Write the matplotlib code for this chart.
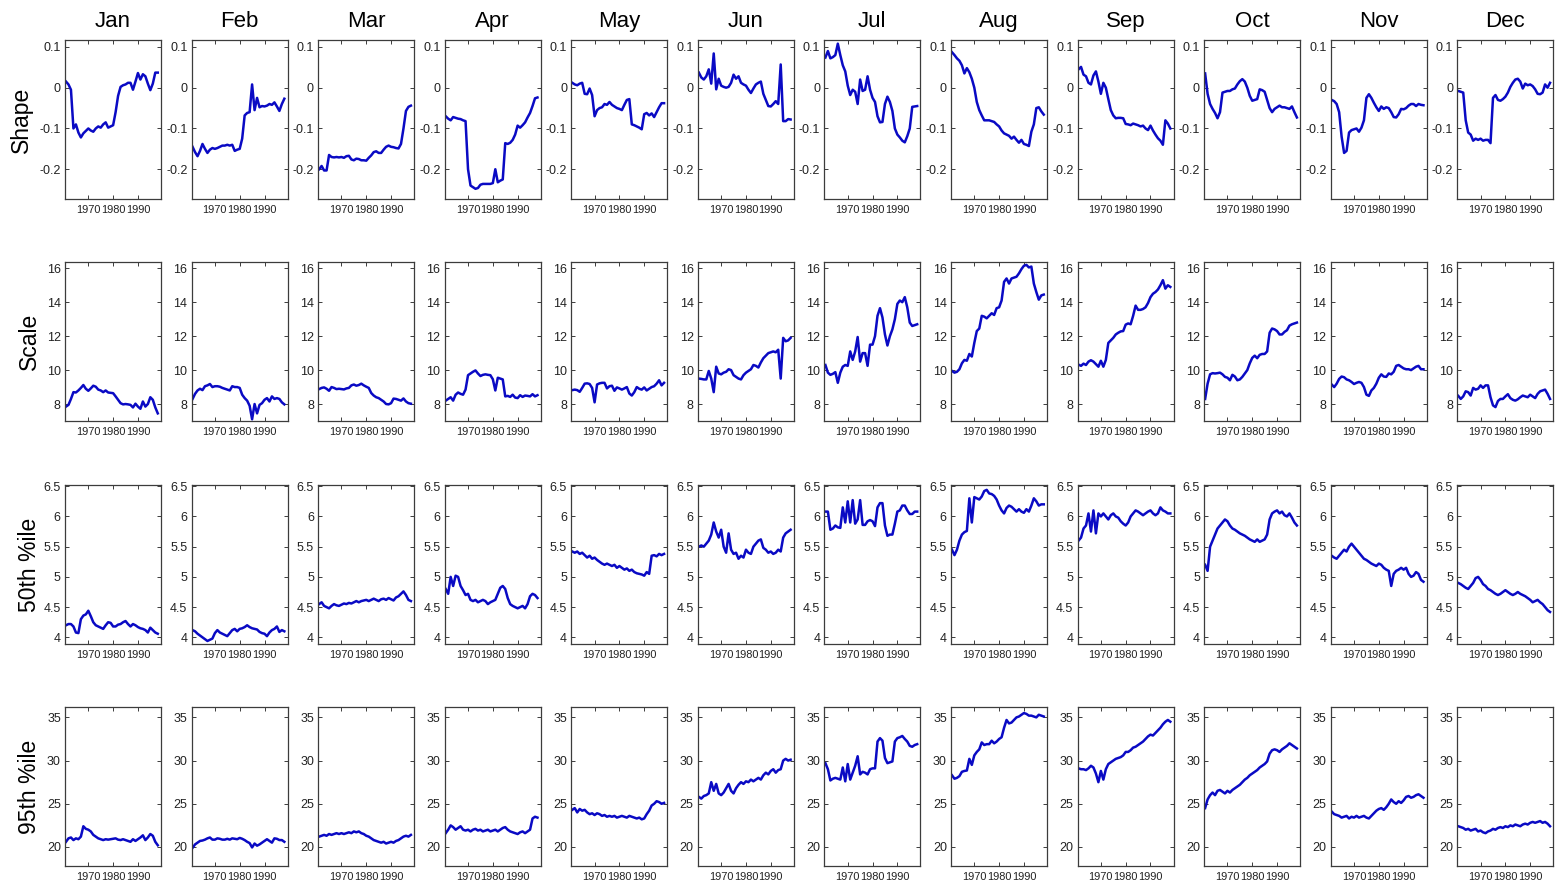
import matplotlib
matplotlib.use("Agg")
import matplotlib.pyplot as plt

plt.rcParams['font.family'] = ['Liberation Sans', 'DejaVu Sans']
plt.rcParams['axes.unicode_minus'] = False

years = list(range(1961, 1999))
months = ['Jan', 'Feb', 'Mar', 'Apr', 'May', 'Jun',
          'Jul', 'Aug', 'Sep', 'Oct', 'Nov', 'Dec']
row_names = ['Shape', 'Scale', '50th %ile', '95th %ile']
x_ticks = [1970, 1980, 1990]

# ---- GEV shape parameter ----
shape_jan = [0.015, 0.008, -0.005, -0.100, -0.090, -0.110, -0.122, -0.112, -0.106, -0.100,
             -0.105, -0.108, -0.100, -0.095, -0.098, -0.090, -0.085, -0.098, -0.095, -0.092,
             -0.060, -0.020, 0.002, 0.006, 0.008, 0.012, 0.012, -0.005, 0.015, 0.036,
             0.020, 0.033, 0.028, 0.010, -0.006, 0.010, 0.037, 0.037]
shape_feb = [-0.145, -0.158, -0.168, -0.155, -0.138, -0.150, -0.160, -0.152, -0.148, -0.150,
             -0.148, -0.145, -0.142, -0.142, -0.140, -0.142, -0.140, -0.155, -0.152, -0.150,
             -0.125, -0.068, -0.062, -0.060, 0.008, -0.055, -0.025, -0.048, -0.045, -0.046,
             -0.044, -0.040, -0.042, -0.036, -0.046, -0.057, -0.040, -0.027]
shape_mar = [-0.200, -0.192, -0.203, -0.203, -0.165, -0.170, -0.171, -0.170, -0.171, -0.170,
             -0.172, -0.168, -0.167, -0.176, -0.178, -0.174, -0.175, -0.178, -0.178, -0.179,
             -0.172, -0.166, -0.158, -0.156, -0.160, -0.160, -0.152, -0.145, -0.142, -0.145,
             -0.146, -0.148, -0.149, -0.138, -0.100, -0.057, -0.047, -0.044]
shape_apr = [-0.070, -0.076, -0.080, -0.072, -0.074, -0.076, -0.077, -0.080, -0.082, -0.200,
             -0.240, -0.244, -0.248, -0.246, -0.238, -0.236, -0.236, -0.236, -0.236, -0.234,
             -0.200, -0.232, -0.228, -0.225, -0.136, -0.138, -0.135, -0.128, -0.115, -0.093,
             -0.098, -0.092, -0.085, -0.073, -0.062, -0.045, -0.026, -0.024]
shape_may = [0.012, 0.008, 0.006, 0.010, 0.012, -0.015, -0.016, -0.002, -0.018, -0.070,
             -0.055, -0.050, -0.048, -0.040, -0.042, -0.035, -0.042, -0.046, -0.050, -0.052,
             -0.055, -0.042, -0.030, -0.028, -0.090, -0.092, -0.095, -0.098, -0.102, -0.065,
             -0.062, -0.068, -0.063, -0.072, -0.060, -0.048, -0.038, -0.038]
shape_jun = [0.037, 0.025, 0.020, 0.028, 0.045, 0.010, 0.084, -0.004, 0.022, 0.005,
             0.002, 0.000, 0.002, 0.012, 0.032, 0.022, 0.028, 0.012, 0.008, 0.005,
             -0.005, -0.013, -0.002, 0.008, 0.012, 0.015, -0.015, -0.030, -0.045, -0.046,
             -0.040, -0.033, -0.040, 0.057, -0.082, -0.082, -0.077, -0.078]
shape_jul = [0.074, 0.090, 0.072, 0.075, 0.080, 0.108, 0.080, 0.055, 0.040, 0.005,
             -0.018, -0.005, -0.010, -0.040, 0.020, -0.008, -0.005, 0.028, -0.005, -0.025,
             -0.035, -0.070, -0.085, -0.084, -0.040, -0.022, -0.035, -0.057, -0.100, -0.115,
             -0.122, -0.130, -0.134, -0.119, -0.100, -0.047, -0.046, -0.045]
shape_aug = [0.087, 0.080, 0.072, 0.066, 0.055, 0.035, 0.048, 0.038, 0.022, 0.000,
             -0.035, -0.055, -0.068, -0.080, -0.080, -0.080, -0.082, -0.084, -0.090, -0.095,
             -0.105, -0.112, -0.115, -0.118, -0.125, -0.120, -0.128, -0.135, -0.128, -0.138,
             -0.140, -0.143, -0.108, -0.090, -0.050, -0.048, -0.058, -0.066]
shape_sep = [0.045, 0.051, 0.032, 0.028, 0.012, 0.008, 0.030, 0.040, 0.015, -0.015,
             0.012, 0.000, -0.028, -0.055, -0.068, -0.075, -0.074, -0.074, -0.075, -0.089,
             -0.090, -0.092, -0.088, -0.090, -0.092, -0.095, -0.093, -0.100, -0.104, -0.093,
             -0.105, -0.115, -0.124, -0.130, -0.140, -0.080, -0.088, -0.100]
shape_oct = [0.035, -0.015, -0.040, -0.052, -0.062, -0.075, -0.060, -0.012, -0.010, -0.008,
             -0.008, -0.004, -0.002, 0.008, 0.016, 0.021, 0.015, 0.000, -0.020, -0.032,
             -0.030, -0.028, -0.004, -0.006, -0.010, -0.030, -0.050, -0.060, -0.052, -0.048,
             -0.044, -0.048, -0.048, -0.050, -0.052, -0.046, -0.060, -0.073]
shape_nov = [-0.030, -0.033, -0.040, -0.060, -0.120, -0.160, -0.155, -0.110, -0.104, -0.102,
             -0.100, -0.108, -0.098, -0.080, -0.025, -0.016, -0.025, -0.037, -0.048, -0.057,
             -0.046, -0.052, -0.048, -0.050, -0.060, -0.072, -0.073, -0.065, -0.052, -0.053,
             -0.050, -0.044, -0.040, -0.040, -0.045, -0.040, -0.042, -0.043]
shape_dec = [-0.008, -0.010, -0.012, -0.080, -0.110, -0.115, -0.130, -0.125, -0.128, -0.125,
             -0.130, -0.128, -0.128, -0.136, -0.025, -0.018, -0.030, -0.032, -0.028, -0.022,
             -0.012, 0.002, 0.012, 0.020, 0.022, 0.015, -0.002, 0.010, 0.006, 0.008,
             0.004, -0.004, -0.015, -0.016, -0.012, 0.008, 0.000, 0.012]

# ---- GEV scale parameter ----
scale_jan = [7.85, 7.95, 8.30, 8.70, 8.68, 8.80, 8.95, 9.12, 8.90, 8.78,
             8.92, 9.08, 9.02, 8.85, 8.80, 8.70, 8.80, 8.68, 8.66, 8.64,
             8.45, 8.25, 8.05, 7.98, 8.00, 7.98, 7.95, 7.80, 8.02, 7.85,
             7.72, 8.15, 7.85, 8.00, 8.40, 8.25, 7.80, 7.45]
scale_feb = [8.30, 8.60, 8.80, 8.90, 8.82, 9.05, 9.10, 9.18, 9.00, 9.05,
             9.05, 9.02, 8.95, 8.90, 8.85, 8.80, 9.05, 9.00, 9.00, 8.95,
             8.55, 8.35, 8.20, 7.90, 7.10, 8.00, 7.45, 7.95, 8.05, 8.25,
             8.35, 8.15, 8.45, 8.30, 8.35, 8.30, 8.10, 7.98]
scale_mar = [8.88, 8.95, 8.98, 8.90, 8.78, 9.00, 8.95, 8.88, 8.90, 8.88,
             8.86, 8.92, 8.95, 9.10, 9.15, 9.08, 9.12, 9.20, 9.10, 9.02,
             8.95, 8.65, 8.50, 8.40, 8.35, 8.25, 8.15, 8.00, 7.98, 8.05,
             8.32, 8.30, 8.25, 8.20, 8.33, 8.15, 8.05, 8.02]
scale_apr = [8.20, 8.30, 8.40, 8.20, 8.55, 8.68, 8.60, 8.55, 8.85, 9.70,
             9.80, 9.90, 9.98, 9.80, 9.65, 9.72, 9.75, 9.72, 9.70, 9.46,
             8.80, 9.55, 9.50, 9.45, 8.45, 8.48, 8.42, 8.55, 8.38, 8.35,
             8.52, 8.42, 8.50, 8.48, 8.45, 8.58, 8.45, 8.52]
scale_may = [8.82, 8.85, 8.82, 8.72, 8.95, 9.20, 9.22, 9.18, 8.95, 8.10,
             9.15, 9.22, 9.25, 9.25, 8.92, 9.05, 9.08, 8.78, 8.98, 8.92,
             8.85, 8.92, 9.00, 8.62, 8.50, 8.70, 9.00, 8.90, 8.85, 8.98,
             8.80, 8.90, 9.00, 9.05, 9.20, 9.40, 9.10, 9.25]
scale_jun = [9.50, 9.48, 9.45, 9.45, 9.95, 9.50, 8.70, 10.20, 9.80, 9.75,
             9.85, 9.90, 10.05, 10.00, 9.70, 9.60, 9.50, 9.45, 9.70, 9.85,
             9.95, 10.05, 10.30, 10.25, 10.15, 10.45, 10.70, 10.85, 11.00, 11.05,
             11.10, 11.05, 11.20, 9.50, 11.90, 11.70, 11.75, 11.90]
scale_jul = [10.30, 9.85, 9.72, 9.78, 9.88, 9.25, 9.85, 10.20, 10.30, 10.25,
             11.10, 10.60, 11.10, 11.95, 10.50, 11.00, 11.00, 10.25, 11.50, 11.50,
             12.00, 13.20, 13.65, 13.10, 12.10, 11.45, 12.00, 12.40, 13.00, 13.90,
             14.10, 14.00, 14.30, 13.70, 12.80, 12.60, 12.65, 12.70]
scale_aug = [9.95, 9.85, 9.90, 10.05, 10.40, 10.60, 10.55, 10.95, 10.80, 11.60,
             12.30, 12.45, 13.20, 13.15, 13.05, 13.20, 13.35, 13.25, 13.65, 13.70,
             14.10, 15.20, 15.40, 15.10, 15.40, 15.45, 15.50, 15.70, 15.95, 16.15,
             16.20, 16.05, 16.10, 15.10, 14.60, 14.15, 14.40, 14.45]
scale_sep = [10.32, 10.25, 10.38, 10.30, 10.50, 10.58, 10.50, 10.35, 10.20, 10.55,
             10.20, 10.60, 11.60, 11.75, 11.90, 12.10, 12.20, 12.28, 12.30, 12.68,
             12.75, 12.70, 13.20, 13.80, 13.55, 13.55, 13.60, 13.70, 13.95, 14.30,
             14.50, 14.60, 14.75, 15.00, 15.30, 14.80, 15.00, 14.90]
scale_oct = [8.30, 9.20, 9.75, 9.82, 9.80, 9.82, 9.85, 9.75, 9.60, 9.55,
             9.40, 9.72, 9.62, 9.40, 9.45, 9.60, 9.80, 10.00, 10.40, 10.72,
             10.85, 10.70, 10.90, 10.95, 10.95, 11.10, 12.20, 12.45, 12.40, 12.30,
             12.10, 12.10, 12.25, 12.35, 12.62, 12.70, 12.75, 12.80]
scale_nov = [9.15, 9.00, 9.20, 9.48, 9.62, 9.58, 9.45, 9.40, 9.30, 9.18,
             9.25, 9.30, 9.25, 9.00, 8.55, 8.48, 8.80, 8.95, 9.20, 9.55,
             9.75, 9.62, 9.60, 9.80, 9.75, 9.90, 10.25, 10.30, 10.20, 10.10,
             10.05, 10.05, 10.00, 10.10, 10.20, 10.25, 10.05, 10.05]
scale_dec = [8.48, 8.30, 8.45, 8.75, 8.70, 8.50, 8.95, 8.85, 8.90, 9.10,
             8.95, 9.10, 9.10, 8.40, 7.92, 7.82, 8.18, 8.30, 8.30, 8.45,
             8.58, 8.35, 8.25, 8.20, 8.28, 8.40, 8.50, 8.45, 8.40, 8.55,
             8.45, 8.35, 8.60, 8.75, 8.80, 8.85, 8.60, 8.30]

# ---- 50th percentile ----
p50_jan = [4.20, 4.22, 4.22, 4.18, 4.08, 4.07, 4.30, 4.36, 4.38, 4.44,
           4.35, 4.25, 4.20, 4.18, 4.16, 4.14, 4.20, 4.25, 4.24, 4.18,
           4.18, 4.21, 4.22, 4.25, 4.27, 4.22, 4.18, 4.22, 4.20, 4.17,
           4.15, 4.14, 4.12, 4.08, 4.16, 4.12, 4.08, 4.06]
p50_feb = [4.12, 4.10, 4.06, 4.03, 4.00, 3.97, 3.94, 3.96, 3.98, 4.07,
           4.12, 4.08, 4.06, 4.04, 4.02, 4.07, 4.12, 4.14, 4.10, 4.14,
           4.15, 4.17, 4.20, 4.17, 4.15, 4.14, 4.13, 4.09, 4.07, 4.06,
           4.02, 4.08, 4.12, 4.14, 4.18, 4.09, 4.12, 4.10]
p50_mar = [4.55, 4.58, 4.52, 4.50, 4.48, 4.52, 4.55, 4.53, 4.52, 4.54,
           4.56, 4.55, 4.57, 4.56, 4.58, 4.60, 4.58, 4.60, 4.61, 4.62,
           4.60, 4.62, 4.64, 4.62, 4.60, 4.63, 4.64, 4.62, 4.65, 4.63,
           4.61, 4.66, 4.68, 4.72, 4.76, 4.70, 4.62, 4.60]
p50_apr = [4.80, 4.72, 5.00, 4.85, 5.02, 5.00, 4.85, 4.78, 4.70, 4.72,
           4.62, 4.60, 4.62, 4.58, 4.60, 4.62, 4.60, 4.55, 4.58, 4.60,
           4.62, 4.72, 4.82, 4.85, 4.80, 4.65, 4.55, 4.52, 4.50, 4.48,
           4.50, 4.52, 4.48, 4.55, 4.68, 4.72, 4.70, 4.65]
p50_may = [5.42, 5.40, 5.42, 5.38, 5.40, 5.36, 5.32, 5.35, 5.30, 5.32,
           5.28, 5.25, 5.22, 5.20, 5.22, 5.20, 5.18, 5.20, 5.15, 5.18,
           5.15, 5.12, 5.14, 5.10, 5.12, 5.08, 5.06, 5.05, 5.04, 5.02,
           5.08, 5.05, 5.35, 5.36, 5.34, 5.38, 5.36, 5.38]
p50_jun = [5.50, 5.52, 5.50, 5.55, 5.60, 5.70, 5.90, 5.75, 5.65, 5.78,
           5.50, 5.40, 5.72, 5.45, 5.38, 5.40, 5.30, 5.35, 5.32, 5.45,
           5.40, 5.38, 5.50, 5.55, 5.60, 5.62, 5.48, 5.45, 5.40, 5.42,
           5.38, 5.40, 5.45, 5.42, 5.65, 5.72, 5.75, 5.78]
p50_jul = [6.08, 6.08, 5.78, 5.80, 5.85, 5.82, 5.81, 6.15, 5.90, 6.25,
           5.90, 6.27, 5.88, 5.95, 6.27, 5.86, 5.86, 5.92, 5.94, 5.92,
           5.84, 6.15, 6.22, 6.22, 5.85, 5.68, 5.70, 5.70, 5.88, 6.08,
           6.10, 6.18, 6.18, 6.10, 6.04, 6.04, 6.08, 6.08]
p50_aug = [5.45, 5.36, 5.45, 5.60, 5.70, 5.74, 5.76, 6.30, 5.90, 6.32,
           6.30, 6.28, 6.33, 6.42, 6.44, 6.38, 6.37, 6.34, 6.28, 6.18,
           6.10, 6.05, 6.14, 6.18, 6.16, 6.12, 6.08, 6.12, 6.08, 6.06,
           6.12, 6.08, 6.18, 6.30, 6.25, 6.18, 6.20, 6.20]
p50_sep = [5.60, 5.65, 5.80, 5.85, 6.05, 5.75, 6.10, 5.72, 6.05, 6.00,
           6.05, 6.00, 5.95, 6.02, 6.05, 6.00, 5.98, 5.92, 5.88, 5.85,
           5.90, 6.00, 6.05, 6.10, 6.08, 6.05, 6.02, 6.05, 6.08, 6.10,
           6.05, 6.02, 6.05, 6.15, 6.10, 6.08, 6.05, 6.05]
p50_oct = [5.20, 5.10, 5.50, 5.60, 5.70, 5.80, 5.85, 5.90, 5.95, 5.92,
           5.85, 5.80, 5.78, 5.75, 5.72, 5.70, 5.68, 5.65, 5.62, 5.60,
           5.58, 5.62, 5.58, 5.60, 5.62, 5.70, 5.95, 6.05, 6.08, 6.10,
           6.05, 6.08, 6.02, 6.00, 6.05, 5.98, 5.90, 5.85]
p50_nov = [5.35, 5.32, 5.30, 5.35, 5.40, 5.45, 5.42, 5.50, 5.55, 5.50,
           5.45, 5.40, 5.35, 5.30, 5.28, 5.25, 5.22, 5.20, 5.18, 5.22,
           5.20, 5.15, 5.12, 5.10, 4.85, 5.05, 5.10, 5.12, 5.15, 5.12,
           5.15, 5.05, 5.00, 5.02, 5.08, 5.05, 4.95, 4.92]
p50_dec = [4.90, 4.88, 4.85, 4.82, 4.80, 4.85, 4.90, 4.98, 5.00, 4.95,
           4.88, 4.85, 4.80, 4.78, 4.75, 4.72, 4.70, 4.72, 4.75, 4.78,
           4.75, 4.72, 4.70, 4.72, 4.75, 4.72, 4.70, 4.68, 4.65, 4.62,
           4.58, 4.60, 4.62, 4.58, 4.55, 4.50, 4.45, 4.42]

# ---- 95th percentile ----
p95_jan = [20.6, 21.0, 21.1, 20.8, 21.0, 20.9, 21.2, 22.4, 22.1, 22.0,
           21.8, 21.4, 21.2, 21.0, 20.9, 20.8, 20.9, 20.85, 20.9, 20.95,
           21.0, 20.85, 20.8, 20.9, 20.8, 20.7, 20.6, 20.9, 20.7, 20.9,
           21.1, 21.35, 20.8, 21.1, 21.5, 21.3, 20.6, 20.2]
p95_feb = [19.9, 20.3, 20.5, 20.7, 20.75, 20.85, 21.0, 21.1, 20.85, 20.85,
           21.0, 20.95, 20.85, 20.85, 20.95, 20.85, 21.0, 20.95, 20.9, 21.05,
           20.95, 20.8, 20.6, 20.45, 19.95, 20.4, 20.15, 20.3, 20.5, 20.7,
           20.9, 20.7, 20.5, 21.0, 20.95, 20.8, 20.8, 20.6]
p95_mar = [21.2, 21.3, 21.4, 21.3, 21.5, 21.4, 21.5, 21.6, 21.5, 21.6,
           21.5, 21.6, 21.7, 21.6, 21.8, 21.7, 21.8, 21.6, 21.5, 21.3,
           21.2, 21.0, 20.8, 20.7, 20.6, 20.5, 20.6, 20.4, 20.5, 20.6,
           20.5, 20.7, 20.8, 21.0, 21.2, 21.3, 21.2, 21.4]
p95_apr = [21.6, 22.0, 22.5, 22.3, 22.0, 22.2, 22.4, 22.0, 21.9, 22.0,
           21.8, 22.0, 22.1, 21.9, 22.0, 21.8, 21.9, 22.0, 21.8, 21.9,
           22.0, 21.8, 22.0, 22.2, 22.3, 22.0, 21.8, 21.7, 21.6, 21.5,
           21.7, 21.8, 21.6, 21.8, 22.0, 23.3, 23.5, 23.4]
p95_may = [24.3, 24.5, 24.0, 24.4, 24.2, 24.3, 24.0, 23.8, 23.9, 23.7,
           23.9, 23.8, 23.6, 23.7, 23.5, 23.6, 23.5, 23.6, 23.4, 23.5,
           23.6, 23.5, 23.4, 23.6, 23.5, 23.4, 23.3, 23.4, 23.2, 23.3,
           23.8, 24.2, 24.8, 25.0, 25.3, 25.2, 25.0, 25.1]
p95_jun = [25.8, 25.6, 25.9, 26.0, 26.2, 27.5, 26.5, 27.3, 26.2, 26.0,
           26.3, 26.8, 27.3, 26.5, 26.2, 26.8, 27.2, 27.5, 27.3, 27.6,
           27.5, 27.8, 27.6, 27.8, 28.0, 27.8, 28.3, 28.6, 28.4, 28.8,
           29.0, 28.6, 28.9, 29.0, 30.0, 30.2, 30.0, 30.1]
p95_jul = [29.7, 29.0, 27.7, 27.9, 28.0, 27.9, 27.8, 29.2, 27.6, 29.6,
           27.8, 28.6, 29.4, 30.5, 28.4, 28.7, 28.6, 28.4, 29.0, 29.1,
           29.1, 32.2, 32.6, 32.3, 30.3, 29.7, 29.8, 29.9, 32.2, 32.6,
           32.7, 32.85, 32.5, 32.2, 31.7, 31.6, 31.8, 31.9]
p95_aug = [28.3, 27.9, 28.0, 28.2, 28.7, 28.8, 28.85, 30.2, 29.5, 30.6,
           31.0, 31.3, 32.1, 31.8, 31.9, 31.9, 32.3, 32.0, 32.2, 32.5,
           32.7, 33.8, 34.7, 34.3, 34.4, 34.7, 35.0, 35.1, 35.3, 35.5,
           35.4, 35.2, 35.2, 35.1, 35.0, 35.3, 35.2, 35.1]
p95_sep = [29.1, 29.0, 29.0, 28.9, 29.1, 29.4, 29.2, 28.5, 27.5, 28.8,
           27.8, 29.0, 29.6, 29.8, 30.0, 30.2, 30.3, 30.4, 30.6, 31.0,
           31.0, 31.2, 31.5, 31.6, 31.8, 32.0, 32.2, 32.5, 32.8, 33.0,
           32.9, 33.2, 33.5, 33.8, 34.2, 34.5, 34.7, 34.5]
p95_oct = [24.5, 25.5, 26.0, 26.3, 26.0, 26.5, 26.6, 26.4, 26.2, 26.5,
           26.3, 26.6, 26.8, 27.0, 27.2, 27.5, 27.8, 28.0, 28.3, 28.5,
           28.7, 28.9, 29.2, 29.4, 29.6, 29.9, 30.8, 31.2, 31.3, 31.2,
           31.0, 31.3, 31.5, 31.7, 32.0, 31.8, 31.6, 31.4]
p95_nov = [24.1, 23.8, 23.7, 23.6, 23.4, 23.5, 23.6, 23.3, 23.5, 23.4,
           23.6, 23.4, 23.5, 23.6, 23.4, 23.3, 23.6, 23.9, 24.2, 24.4,
           24.5, 24.3, 24.6, 25.0, 25.5, 25.2, 25.0, 25.3, 25.1, 25.4,
           25.8, 25.9, 25.7, 25.8, 26.0, 26.1, 25.9, 25.7]
p95_dec = [22.4, 22.3, 22.2, 22.0, 22.1, 21.9, 22.0, 22.1, 21.8, 21.9,
           21.7, 21.6, 21.8, 21.9, 22.1, 22.0, 22.2, 22.3, 22.2, 22.4,
           22.3, 22.5, 22.4, 22.6, 22.5, 22.4, 22.6, 22.7, 22.6, 22.8,
           22.9, 22.8, 22.9, 23.0, 22.8, 22.9, 22.7, 22.4]

shape_rows = [shape_jan, shape_feb, shape_mar, shape_apr, shape_may, shape_jun,
              shape_jul, shape_aug, shape_sep, shape_oct, shape_nov, shape_dec]
scale_rows = [scale_jan, scale_feb, scale_mar, scale_apr, scale_may, scale_jun,
              scale_jul, scale_aug, scale_sep, scale_oct, scale_nov, scale_dec]
p50_rows = [p50_jan, p50_feb, p50_mar, p50_apr, p50_may, p50_jun,
            p50_jul, p50_aug, p50_sep, p50_oct, p50_nov, p50_dec]
p95_rows = [p95_jan, p95_feb, p95_mar, p95_apr, p95_may, p95_jun,
            p95_jul, p95_aug, p95_sep, p95_oct, p95_nov, p95_dec]
grid = [shape_rows, scale_rows, p50_rows, p95_rows]

y_limits = [(-0.273, 0.117), (7.0, 16.37), (3.89, 6.52), (17.8, 36.2)]
y_ticks = [[-0.2, -0.1, 0, 0.1], [8, 10, 12, 14, 16],
           [4, 4.5, 5, 5.5, 6, 6.5], [20, 25, 30, 35]]
y_tick_labels = [['-0.2', '-0.1', '0', '0.1'], ['8', '10', '12', '14', '16'],
                 ['4', '4.5', '5', '5.5', '6', '6.5'], ['20', '25', '30', '35']]

# ---- layout (pixels) ----
W, H = 1555, 886
col_left0, col_step, ax_w = 65.0, 126.57, 96.0
row_tops = [40.0, 262.0, 485.0, 707.0]
ax_h = 159.0
row_label_x = [21, 29, 29, 29]

line_color = '#0a0ac4'
spine_color = '#3c3c3c'
text_color = '#222222'

fig = plt.figure(figsize=(W / 100, H / 100), dpi=100)
fig.patch.set_facecolor('white')

for r in range(4):
    for c in range(12):
        left = col_left0 + c * col_step
        ax = fig.add_axes([left / W, 1 - (row_tops[r] + ax_h) / H, ax_w / W, ax_h / H])
        ax.plot(years, grid[r][c], color=line_color, lw=1.8, solid_joinstyle='round')
        ax.set_xlim(1960.6, 1999.3)
        ax.set_ylim(*y_limits[r])
        ax.set_xticks(x_ticks)
        ax.set_xticklabels([str(t) for t in x_ticks])
        ax.set_yticks(y_ticks[r])
        ax.set_yticklabels(y_tick_labels[r])
        ax.tick_params(direction='in', top=True, right=True, length=3, width=0.7,
                       colors=spine_color, labelcolor=text_color)
        ax.tick_params(axis='y', pad=3, labelsize=9)
        ax.tick_params(axis='x', pad=4, labelsize=7.9)
        for sp in ax.spines.values():
            sp.set_color(spine_color)
            sp.set_linewidth(0.9)
        if r == 0:
            ax.set_title(months[c], fontsize=16, pad=9.5, color='black')
    fig.text(row_label_x[r] / W, 1 - (row_tops[r] + ax_h / 2) / H, row_names[r],
             rotation=90, ha='center', va='center', fontsize=16.5, color='black')

fig.savefig('out.png', dpi=100, facecolor='white')
